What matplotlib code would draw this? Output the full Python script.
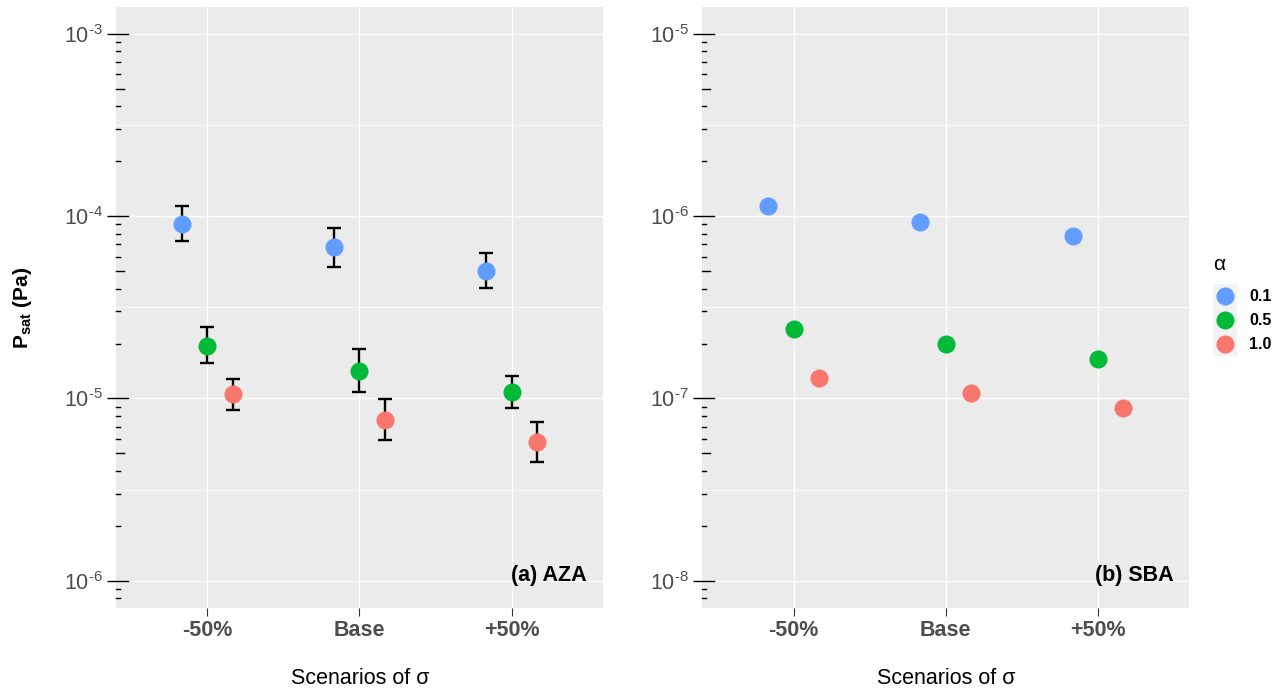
import numpy as np
import matplotlib
matplotlib.use("Agg")
import matplotlib.pyplot as plt
from matplotlib.lines import Line2D
from matplotlib.patches import Rectangle
from matplotlib.legend_handler import HandlerBase
from matplotlib.ticker import FixedLocator, FuncFormatter, NullFormatter
import matplotlib.transforms as mtransforms

plt.rcParams['font.family'] = ['Liberation Sans', 'DejaVu Sans']
plt.rcParams['mathtext.fontset'] = 'custom'
plt.rcParams['mathtext.rm'] = 'Liberation Sans'
plt.rcParams['mathtext.bf'] = 'Liberation Sans:bold'
plt.rcParams['mathtext.it'] = 'Liberation Sans:italic'

# ---------------- data ----------------
scenarios = ['-50%', 'Base', '+50%']
alpha_labels = ['0.1', '0.5', '1.0']
alpha_colors = ['#619CFF', '#00BA38', '#F8766D']

aza_a01 = [9.04e-5, 6.73e-5, 5.00e-5]
aza_a01_lo = [7.30e-5, 5.27e-5, 4.03e-5]
aza_a01_hi = [1.135e-4, 8.63e-5, 6.30e-5]
aza_a05 = [1.94e-5, 1.41e-5, 1.086e-5]
aza_a05_lo = [1.556e-5, 1.08e-5, 8.81e-6]
aza_a05_hi = [2.45e-5, 1.87e-5, 1.33e-5]
aza_a10 = [1.056e-5, 7.60e-6, 5.78e-6]
aza_a10_lo = [8.66e-6, 5.89e-6, 4.49e-6]
aza_a10_hi = [1.28e-5, 9.95e-6, 7.38e-6]

sba_a01 = [1.13e-6, 9.30e-7, 7.74e-7]
sba_a05 = [2.40e-7, 1.985e-7, 1.643e-7]
sba_a10 = [1.292e-7, 1.073e-7, 8.85e-8]

# ---------------- figure ----------------
W, H = 1287, 693
fig = plt.figure(figsize=(W / 100, H / 100), dpi=100)

pan_bottom_px = 607.7
pan_top_px = 7.0
pan_w_px = 487.0
ax_b = (H - pan_bottom_px) / H
ax_h = (pan_bottom_px - pan_top_px) / H
axL = fig.add_axes([116.0 / W, ax_b, pan_w_px / W, ax_h])
axR = fig.add_axes([702.3 / W, ax_b, pan_w_px / W, ax_h])

dodge = 0.1667
offsets = [-dodge, 0.0, dodge]
xbase = np.arange(1, len(scenarios) + 1)


def sci_label(v, p):
    e = int(round(np.log10(v)))
    s = ('\u2010%d' % abs(e)) if e < 0 else ('%d' % e)
    return r'$\mathregular{10^{%s}}$' % s


def style_axis(ax, dec_lo, dec_hi, ylim_log):
    ax.set_facecolor('#EBEBEB')
    for s in ax.spines.values():
        s.set_visible(False)
    ax.set_yscale('log')
    ax.set_ylim(10 ** ylim_log[0], 10 ** ylim_log[1])
    ax.set_xlim(0.4, 3.6)
    majors = [10.0 ** n for n in range(dec_lo, dec_hi + 1)]
    minors = [10.0 ** (n + 0.5) for n in range(dec_lo - 1, dec_hi + 1)]
    ax.yaxis.set_major_locator(FixedLocator(majors))
    ax.yaxis.set_minor_locator(FixedLocator(minors))
    ax.yaxis.set_major_formatter(FuncFormatter(sci_label))
    ax.yaxis.set_minor_formatter(NullFormatter())
    ax.tick_params(axis='y', which='major', direction='out', length=6.5,
                   width=1.0, color='black', labelsize=15.5,
                   labelcolor='#4D4D4D', pad=3)
    ax.tick_params(axis='y', which='minor', length=0)
    ax.set_xticks(xbase)
    ax.set_xticklabels(scenarios, fontweight='bold')
    ax.tick_params(axis='x', which='major', direction='out', length=6,
                   width=0.8, color='#333333', labelsize=15.5,
                   labelcolor='#4D4D4D', pad=3)
    ax.grid(True, which='major', color='white', linewidth=1.0, zorder=0)
    ax.grid(True, which='minor', axis='y', color='white', linewidth=0.6, zorder=0)
    ax.set_axisbelow(True)
    # annotation_logticks style (inside, left side)
    trans = mtransforms.blended_transform_factory(ax.transAxes, ax.transData)
    ymin, ymax = ax.get_ylim()
    for n in range(dec_lo - 1, dec_hi + 1):
        for k in range(1, 10):
            yv = k * 10.0 ** n
            if yv < ymin or yv > ymax:
                continue
            L = 12 if k == 1 else (8 if k == 5 else 4)
            ax.add_line(Line2D([0, L / pan_w_px], [yv, yv], color='black',
                               linewidth=1.0, transform=trans, clip_on=False,
                               zorder=3))


style_axis(axL, -6, -3, (-6.148, -2.853))
style_axis(axR, -8, -5, (-8.148, -4.853))

# AZA panel
aza_means = [aza_a01, aza_a05, aza_a10]
aza_los = [aza_a01_lo, aza_a05_lo, aza_a10_lo]
aza_his = [aza_a01_hi, aza_a05_hi, aza_a10_hi]
for i in range(3):
    xs = xbase + offsets[i]
    m = np.array(aza_means[i])
    lo = np.array(aza_los[i])
    hi = np.array(aza_his[i])
    axL.errorbar(xs, m, yerr=[m - lo, hi - m], fmt='none', ecolor='black',
                 elinewidth=1.7, capsize=5.3, capthick=1.7, zorder=4)
    axL.plot(xs, m, linestyle='none', marker='o', markersize=13,
             markerfacecolor=alpha_colors[i], markeredgecolor='none', zorder=5)

# SBA panel
sba_means = [sba_a01, sba_a05, sba_a10]
for i in range(3):
    xs = xbase + offsets[i]
    axR.plot(xs, sba_means[i], linestyle='none', marker='o', markersize=13,
             markerfacecolor=alpha_colors[i], markeredgecolor='none', zorder=5)

axL.text(0.9665, 0.054, '(a) AZA', transform=axL.transAxes, ha='right',
         va='center', fontsize=15.5, fontweight='bold', color='black')
axR.text(0.967, 0.054, '(b) SBA', transform=axR.transAxes, ha='right',
         va='center', fontsize=15.5, fontweight='bold', color='black')

# axis titles
fig.text(360 / W, (H - 678) / H, 'Scenarios of σ', ha='center', va='center',
         fontsize=15.5, color='black')
fig.text(946 / W, (H - 678) / H, 'Scenarios of σ', ha='center', va='center',
         fontsize=15.5, color='black')
fig.text(22 / W, (H - 308) / H, r'$\mathbf{P_{sat}}$ (Pa)', rotation=90,
         ha='center', va='center', fontsize=15, fontweight='bold',
         color='black')


# legend
class KeyHandler(HandlerBase):
    def create_artists(self, legend, orig_handle, xdescent, ydescent, width,
                       height, fontsize, trans):
        rect = Rectangle((-xdescent, -ydescent), width, height,
                         facecolor='#F2F2F2', edgecolor='none', transform=trans)
        mk = Line2D([width / 2 - xdescent], [height / 2 - ydescent],
                    linestyle='none', marker='o', markersize=13,
                    markerfacecolor=orig_handle.get_markerfacecolor(),
                    markeredgecolor='none', transform=trans)
        return [rect, mk]


handles = [Line2D([], [], linestyle='none', marker='o', markerfacecolor=c,
                  markeredgecolor='none') for c in alpha_colors]
leg = fig.legend(handles, alpha_labels, handler_map={Line2D: KeyHandler()},
                 loc='upper left', bbox_to_anchor=(1213 / W, (H - 284) / H),
                 frameon=False, prop={'size': 11.5, 'weight': 'bold'},
                 labelspacing=0, handlelength=1.5, handleheight=1.95,
                 handletextpad=0.75, borderpad=0, borderaxespad=0)
fig.text(1213 / W, (H - 265) / H, 'α', ha='left', va='center', fontsize=15,
         color='black')

fig.savefig('out.png', dpi=100)
